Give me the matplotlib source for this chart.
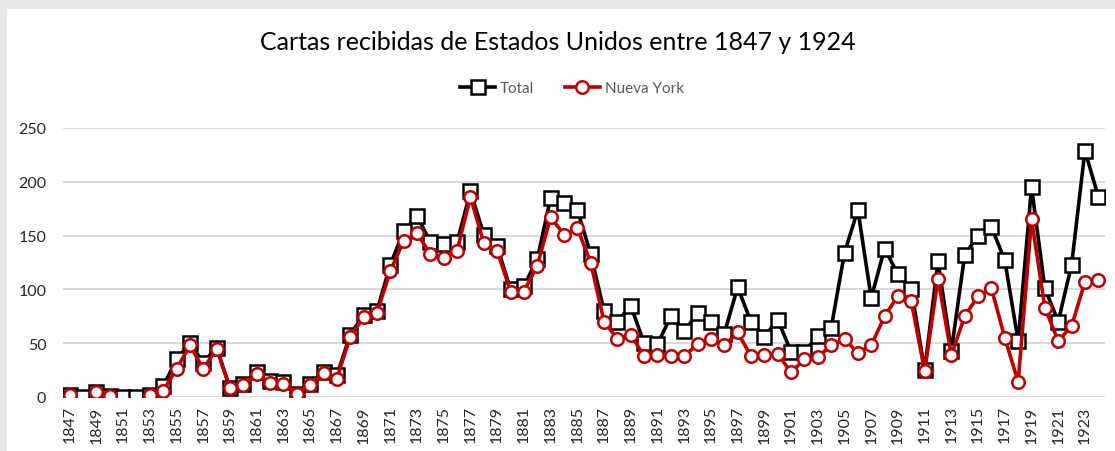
import numpy as np
import matplotlib.pyplot as plt
from matplotlib.patches import Rectangle

# --- Data ---
years = list(range(1847, 1925))

total = [2, 0, 5, 1, 0, 0, 2, 10, 35, 50, 32, 46, 8, 12, 23, 15, 14, 3,
         12, 23, 20, 58, 76, 80, 123, 154, 168, 144, 142, 144, 191, 151, 140,
         100, 103, 128, 185, 180, 174, 133, 80, 70, 85, 50, 49, 75, 61, 78,
         70, 59, 102, 70, 56, 72, 42, 42, 57, 64, 134, 174, 92, 138, 114,
         100, 25, 126, 43, 132, 150, 158, 127, 52, 195, 101, 70, 123, 229, 186]

nueva_york = [2, np.nan, 5, 1, np.nan, np.nan, 2, 6, 26, 48, 26, 45, 8, 11, 21, 13, 12, 3,
              11, 22, 17, 56, 74, 78, 117, 145, 152, 133, 129, 136, 186, 143, 136,
              98, 98, 122, 167, 151, 157, 125, 70, 54, 58, 38, 39, 38, 38, 49,
              54, 48, 60, 38, 39, 40, 23, 35, 37, 48, 54, 41, 48, 75, 94,
              89, 24, 110, 39, 75, 94, 101, 55, 14, 165, 83, 52, 66, 107, 109]

tick_years = list(range(1847, 1925, 2))
y_ticks = [0, 50, 100, 150, 200, 250]

TITLE = "Cartas recibidas de Estados Unidos entre 1847 y 1924"

# --- Figure ---
plt.rcParams['font.family'] = ['Lato', 'DejaVu Sans']

fig = plt.figure(figsize=(11.15, 4.52), dpi=100)
ax = fig.add_axes([63 / 1115, 1 - 398 / 452, (1105 - 63) / 1115, (398 - 129) / 452])

# gray frame strips on top and left like the screenshot
fig.patches.append(Rectangle((0, 1 - 10 / 452), 1, 10 / 452, transform=fig.transFigure,
                             facecolor='#e8e8e8', edgecolor='none', zorder=0))
fig.patches.append(Rectangle((0, 0), 7 / 1115, 1, transform=fig.transFigure,
                             facecolor='#e8e8e8', edgecolor='none', zorder=0))

ax.plot(years, total, color='black', linewidth=2.6, marker='s', markersize=9.5,
        markerfacecolor='white', markeredgecolor='black', markeredgewidth=1.8,
        label='Total', zorder=3)
ax.plot(years, nueva_york, color='#c00000', linewidth=2.6, marker='o', markersize=9,
        markerfacecolor='white', markeredgecolor='#c00000', markeredgewidth=1.8,
        label='Nueva York', zorder=4)

ax.set_xlim(1846.5, 1924.5)
ax.set_ylim(0, 250)
ax.set_yticks(y_ticks)
ax.set_xticks(tick_years)
ax.set_xticklabels([str(y) for y in tick_years], rotation=90)

ax.grid(axis='y', color='#d9d9d9', linewidth=1.4)
ax.set_axisbelow(True)
for s in ['top', 'right', 'left', 'bottom']:
    ax.spines[s].set_visible(False)
ax.tick_params(axis='y', length=0, pad=12, labelsize=11.5, labelcolor='#262626')
ax.tick_params(axis='x', length=0, pad=6, labelsize=11.5, labelcolor='#262626')

fig.text(0.5, 1 - 43 / 452, TITLE, ha='center', va='center', fontsize=18, color='black')

fig.legend(loc='center', bbox_to_anchor=(0.513, 1 - 89 / 452), ncol=2, frameon=False,
           fontsize=11, labelcolor='#595959', handlelength=2.3, columnspacing=2.0,
           handletextpad=0.3)

fig.savefig('out.png', dpi=100)
